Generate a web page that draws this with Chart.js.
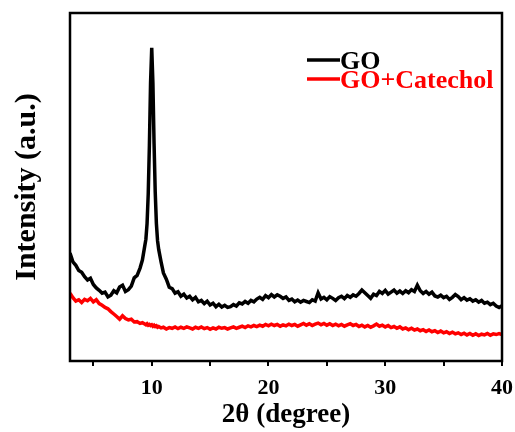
<!DOCTYPE html>
<html>
<head>
<meta charset="utf-8">
<script src="https://cdn.jsdelivr.net/npm/chart.js@4.4.1/dist/chart.umd.min.js"></script>
<style>
  html, body { margin: 0; padding: 0; background: #fff; }
  #wrap { width: 515px; height: 432px; }
</style>
</head>
<body>
<div id="wrap"><canvas id="xrd"></canvas></div>
<script>
// 2theta positions (degree), denser around the GO (001) peak
const angles = [
    3, 3.25, 3.5, 3.75, 4, 4.25, 4.5, 4.75, 5, 5.25, 5.5, 5.75, 6, 6.25, 6.5, 6.75, 7, 7.25, 7.5, 7.75, 8, 8.25, 8.5, 8.75, 9,
    9.2, 9.4, 9.5, 9.6, 9.7, 9.8, 9.9, 10, 10.1, 10.2, 10.3, 10.4, 10.5, 10.6, 10.8, 11,
    11.25, 11.5, 11.75, 12,
    12.25, 12.5, 12.75, 13,
    13.25, 13.5, 13.75, 14,
    14.25, 14.5, 14.75, 15,
    15.25, 15.5, 15.75, 16,
    16.25, 16.5, 16.75, 17,
    17.25, 17.5, 17.75, 18,
    18.25, 18.5, 18.75, 19,
    19.25, 19.5, 19.75, 20,
    20.25, 20.5, 20.75, 21,
    21.25, 21.5, 21.75, 22,
    22.25, 22.5, 22.75, 23,
    23.25, 23.5, 23.75, 24,
    24.25, 24.5, 24.75, 25,
    25.25, 25.5, 25.75, 26,
    26.25, 26.5, 26.75, 27,
    27.25, 27.5, 27.75, 28,
    28.25, 28.5, 28.75, 29,
    29.25, 29.5, 29.75, 30,
    30.25, 30.5, 30.75, 31,
    31.25, 31.5, 31.75, 32,
    32.25, 32.5, 32.75, 33,
    33.25, 33.5, 33.75, 34,
    34.25, 34.5, 34.75, 35,
    35.25, 35.5, 35.75, 36,
    36.25, 36.5, 36.75, 37,
    37.25, 37.5, 37.75, 38,
    38.25, 38.5, 38.75, 39,
    39.25, 39.5, 39.75, 40
];

// intensity (a.u.)
const goIntensity = [
    31.0, 28.5, 27.5, 26.0, 25.5, 24.2, 23.3, 23.8, 22.0, 21.0, 20.3, 19.5, 19.8, 18.4, 18.9, 20.2, 19.6, 21.3, 21.8, 20.0, 20.5, 21.5, 23.9, 24.6, 26.7,
    29.0, 33.0, 35.0, 39.5, 48.0, 62.0, 80.0, 90.0, 80.0, 62.5, 48.5, 39.5, 34.5, 32.0, 28.5, 25.3,
    23.5, 21.2, 20.8, 19.5,
    19.9, 18.6, 19.2, 18.1,
    18.6, 17.6, 18.3, 17.0,
    17.4, 16.5, 17.2, 16.1,
    16.6, 15.6, 16.3, 15.5,
    16.0, 15.4, 15.6, 16.2,
    15.8, 16.7, 16.4, 17.1,
    16.6, 17.4, 17.0, 17.8,
    18.3, 17.7, 18.8, 18.2,
    19.1, 18.4, 19.0, 18.6,
    18.0, 18.4, 17.4, 17.8,
    17.0, 17.5, 16.9, 17.4,
    17.1, 16.8, 17.6, 17.2,
    19.6, 17.8, 18.3, 17.6,
    18.5, 18.0, 17.4, 18.2,
    18.6, 17.9, 18.8, 18.3,
    19.0, 18.6, 19.4, 20.4,
    19.6, 18.8, 18.0, 19.2,
    18.8, 20.0, 19.4, 20.3,
    19.2, 19.8, 20.4, 19.5,
    20.1, 19.4, 20.2, 19.6,
    20.5, 20.0, 21.8, 20.2,
    19.4, 20.0, 19.2, 19.8,
    18.7, 18.4, 18.9, 18.2,
    18.6, 17.7, 18.3, 19.1,
    18.5, 17.6, 18.2, 17.5,
    17.9, 17.2, 17.6, 16.9,
    17.4, 16.6, 16.9, 16.2,
    16.6, 15.8, 15.4, 15.9
];

const catecholIntensity = [
    19.5, 18.2, 17.2, 17.6, 16.8, 17.7, 17.3, 18.0, 17.0, 17.6, 16.5, 16.0, 15.4, 15.0, 14.2, 13.5, 12.8, 12.0, 13.0, 12.2, 11.8, 12.0, 11.2, 11.3, 10.8,
    11.0, 10.6, 10.4, 10.7, 10.3, 10.5, 10.2, 10.4, 10.0, 10.3, 9.9, 10.1, 9.7, 9.9, 9.5, 9.7,
    9.2, 9.6, 9.4, 9.8,
    9.3, 9.7, 9.4, 9.8,
    9.5, 9.2, 9.7, 9.4,
    9.8, 9.3, 9.6, 9.1,
    9.5, 9.2, 9.7, 9.4,
    9.6, 9.2, 9.5, 9.8,
    9.4, 9.7, 10.0, 9.6,
    10.1, 9.8, 10.2, 9.9,
    10.3, 10.0, 10.5, 10.1,
    10.6, 10.2, 10.5, 10.0,
    10.4, 10.1, 10.6, 10.2,
    10.5, 10.0, 10.4, 10.8,
    10.3, 10.7, 10.2, 10.6,
    10.9, 10.4, 10.8, 10.3,
    10.7, 10.2, 10.6, 10.1,
    10.5, 10.0, 10.4, 10.7,
    10.2, 10.5, 9.9, 10.3,
    9.8, 10.2, 9.7, 10.1,
    10.6, 10.0, 10.3, 9.8,
    10.2, 9.6, 9.9, 9.4,
    9.8, 9.2, 9.5, 9.0,
    9.4, 8.9, 9.2, 8.7,
    9.0, 8.5, 8.9, 8.4,
    8.7, 8.2, 8.6, 8.1,
    8.4, 7.9, 8.3, 7.8,
    8.1, 7.6, 8.0, 7.5,
    7.9, 7.4, 7.8, 7.3,
    7.7, 7.5, 7.9, 7.4,
    7.8, 7.6, 7.9, 7.6
];

const seriesNames = ["GO", "GO+Catechol"];
const seriesColors = ["#000000", "#ff0000"];
const xTicks = [10, 20, 30, 40];

const serif = "'Liberation Serif', 'Times New Roman', serif";

// box round the plot
const frame = {
    id: "frame",
    afterDatasetsDraw(chart) {
        const a = chart.chartArea;
        const ctx = chart.ctx;
        ctx.save();
        ctx.strokeStyle = "#000";
        ctx.lineWidth = 2.5;
        ctx.strokeRect(a.left, a.top, a.right - a.left, a.bottom - a.top);
        ctx.restore();
    }
};

// legend: short line then label, text in the series colour
const lineLegend = {
    id: "lineLegend",
    afterDraw(chart) {
        const a = chart.chartArea;
        const ctx = chart.ctx;
        ctx.save();
        ctx.font = "bold 26px " + serif;
        ctx.textBaseline = "alphabetic";
        chart.data.datasets.forEach(function(ds, i) {
            const y = a.top + 47 + i * 19;
            ctx.strokeStyle = ds.borderColor;
            ctx.lineWidth = 3.5;
            ctx.beginPath();
            ctx.moveTo(a.left + 237, y);
            ctx.lineTo(a.left + 270, y);
            ctx.stroke();
            ctx.fillStyle = ds.borderColor;
            ctx.fillText(ds.label, a.left + 270, y + 8.5);
        });
        ctx.restore();
    }
};

document.addEventListener("DOMContentLoaded", function() {
    const ctx = document.getElementById("xrd").getContext("2d");
    new Chart(ctx, {
        type: "line",
        data: {
            datasets: [{
                label: seriesNames[0],
                data: angles.map((a, i) => ({ x: a, y: goIntensity[i] })),
                borderColor: seriesColors[0],
                borderWidth: 3.5,
                pointRadius: 0,
                tension: 0
            }, {
                label: seriesNames[1],
                data: angles.map((a, i) => ({ x: a, y: catecholIntensity[i] })),
                borderColor: seriesColors[1],
                borderWidth: 3.5,
                pointRadius: 0,
                tension: 0
            }]
        },
        options: {
            responsive: true,
            maintainAspectRatio: false,
            animation: false,
            layout: { padding: { top: 13, right: 13, left: 0, bottom: 0 } },
            plugins: {
                legend: { display: false },
                tooltip: { enabled: false }
            },
            scales: {
                x: {
                    type: "linear",
                    min: 3,
                    max: 40,
                    border: { display: false },
                    grid: {
                        drawOnChartArea: false,
                        drawTicks: true,
                        tickLength: 5,
                        color: "#000",
                        lineWidth: 2
                    },
                    ticks: {
                        stepSize: 5,
                        includeBounds: false,
                        autoSkip: false,
                        maxRotation: 0,
                        padding: 9,
                        color: "#000",
                        font: { family: serif, size: 22, weight: "bold" },
                        callback: v => xTicks.includes(v) ? String(v) : ""
                    },
                    title: {
                        display: true,
                        text: "2θ (degree)",
                        color: "#000",
                        font: { family: serif, size: 27, weight: "bold", lineHeight: 1 },
                        padding: { top: 0, bottom: 3 }
                    },
                    afterFit: s => {
                        s.height = 71;
                        s.paddingLeft = 0;
                        s.paddingRight = 0;
                    }
                },
                y: {
                    min: 0,
                    max: 100,
                    border: { display: false },
                    grid: { display: false },
                    ticks: { display: false },
                    title: {
                        display: true,
                        text: "Intensity (a.u.)",
                        color: "#000",
                        font: { family: serif, size: 30, weight: "bold", lineHeight: 1 },
                        padding: { top: 12, bottom: 0 }
                    },
                    afterFit: s => { s.width = 70; }
                }
            }
        },
        plugins: [frame, lineLegend]
    });
});
</script>
</body>
</html>
